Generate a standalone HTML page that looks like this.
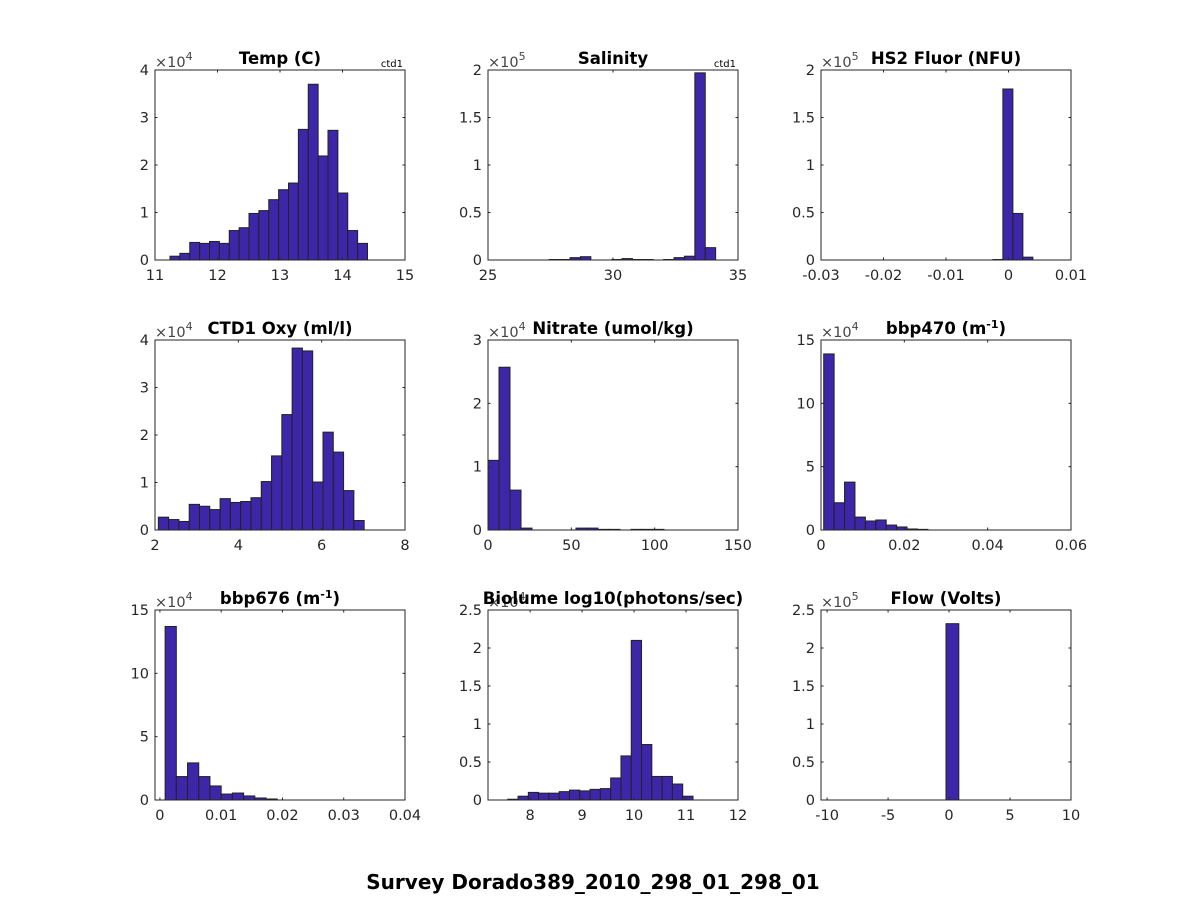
<!DOCTYPE html>
<html><head><meta charset="utf-8">
<style>
body{margin:0;background:#fff;}
svg text{font-family:"DejaVu Sans","Liberation Sans",sans-serif;}
</style></head>
<body>
<svg id="fig" width="1188" height="900" viewBox="0 0 1188 900" xmlns="http://www.w3.org/2000/svg">
<rect width="1188" height="900" fill="#fff"/>
<text x="593" y="889" text-anchor="middle" font-size="20" font-weight="bold" fill="#000">Survey Dorado389_2010_298_01_298_01</text>
</svg>
<script>
// ---- data (counts in units of the axis exponent) ----
const tempStart = 11.24, tempWidth = 0.158;
const tempCounts = [0.08,0.14,0.37,0.35,0.39,0.35,0.62,0.68,0.98,1.04,1.27,1.48,1.62,2.75,3.70,2.19,2.73,1.41,0.62,0.35];
const tempXTicks = [11,12,13,14,15];
const tempYTicks = [0,1,2,3,4];

const salStart = 27.45, salWidth = 0.416;
const salCounts = [0.005,0.005,0.025,0.035,0,0,0.005,0.015,0.005,0.005,0,0.005,0.025,0.04,1.97,0.13];
const salXTicks = [25,30,35];
const salYTicks = [0,0.5,1,1.5,2];

const fluStart = -0.0025, fluWidth = 0.0016;
const fluCounts = [0.005,1.80,0.49,0.03];
const fluXTicks = [-0.03,-0.02,-0.01,0,0.01];
const fluYTicks = [0,0.5,1,1.5,2];

const oxyStart = 2.08, oxyWidth = 0.247;
const oxyCounts = [0.27,0.22,0.18,0.54,0.50,0.43,0.66,0.58,0.60,0.68,1.02,1.56,2.43,3.83,3.77,1.01,2.06,1.64,0.83,0.20];
const oxyXTicks = [2,4,6,8];
const oxyYTicks = [0,1,2,3,4];

const nitStart = 0, nitWidth = 6.6;
const nitCounts = [1.1,2.57,0.63,0.03,0,0,0,0,0.03,0.03,0.01,0.01,0,0.01,0.01,0.01];
const nitXTicks = [0,50,100,150];
const nitYTicks = [0,1,2,3];

const b470Start = 0.00065, b470Width = 0.0025;
const b470Counts = [13.9,2.15,3.78,1.02,0.71,0.79,0.39,0.24,0.08,0.05];
const b470XTicks = [0,0.02,0.04,0.06];
const b470YTicks = [0,5,10,15];

const b676Start = 0.00085, b676Width = 0.00183;
const b676Counts = [13.7,1.85,2.93,1.85,1.11,0.47,0.55,0.32,0.16,0.08];
const b676XTicks = [0,0.01,0.02,0.03,0.04];
const b676YTicks = [0,5,10,15];

const bioStart = 7.57, bioWidth = 0.198;
const bioCounts = [0.01,0.05,0.10,0.09,0.09,0.11,0.13,0.12,0.14,0.15,0.29,0.58,2.10,0.73,0.31,0.31,0.21,0.05];
const bioXTicks = [8,9,10,11,12];
const bioYTicks = [0,0.5,1,1.5,2,2.5];

const flowStart = -0.25, flowWidth = 1.05;
const flowCounts = [2.32];
const flowXTicks = [-10,-5,0,5,10];
const flowYTicks = [0,0.5,1,1.5,2,2.5];

const NS = "http://www.w3.org/2000/svg";
const svg = document.getElementById("fig");
function mk(tag, attrs, parent){
  const e = document.createElementNS(NS, tag);
  for (const k in attrs) e.setAttribute(k, attrs[k]);
  (parent||svg).appendChild(e);
  return e;
}

function panel(cfg){
  const L = cfg.left, R = cfg.left + 250, T = cfg.top, B = cfg.top + 190;
  const g = mk("g", {});
  
  
  const xs = v => L + (v - cfg.xmin) / (cfg.xmax - cfg.xmin) * (R - L);
  const ys = v => B - (v - cfg.ymin) / (cfg.ymax - cfg.ymin) * (B - T);
  cfg.counts.forEach((c, i) => {
    if (c <= 0) return;
    const x0 = xs(cfg.start + i * cfg.width), x1 = xs(cfg.start + (i + 1) * cfg.width);
    const r = mk("rect", {x: x0, y: ys(c), width: x1 - x0, height: B - ys(c), fill: "#3d26a8", stroke: "#222", "stroke-width": 1}, g);
    
    
  });
  const box = mk("rect", {x: L, y: T, width: R - L, height: B - T, fill: "none", stroke: "#262626", "stroke-width": 1}, g);
  
  
  cfg.xticks.forEach(v => {
    const x = xs(v);
    mk("line", {x1: x, x2: x, y1: B, y2: B - 2.5, stroke: "#262626"}, g);
    mk("line", {x1: x, x2: x, y1: T, y2: T + 2.5, stroke: "#262626"}, g);
    const t = mk("text", {x: x, y: B + 20, "text-anchor": "middle", "font-size": 14.5, fill: "#262626"}, g);
    
    
    t.textContent = String(v);
  });
  cfg.yticks.forEach(v => {
    const y = ys(v);
    mk("line", {x1: L, x2: L + 2.5, y1: y, y2: y, stroke: "#262626"}, g);
    mk("line", {x1: R, x2: R - 2.5, y1: y, y2: y, stroke: "#262626"}, g);
    const t = mk("text", {x: L - 6, y: y + 5, "text-anchor": "end", "font-size": 14.5, fill: "#262626"}, g);
    
    
    t.textContent = String(v);
  });
  const ex = mk("text", {x: L, y: T - 3, "font-size": 14.5, fill: "#444"}, g);
  
  
  ex.innerHTML = '×10<tspan dy="-7" font-size="11">' + cfg.exp + '</tspan>';
  const ti = mk("text", {x: (L + R) / 2, y: T - 6, "text-anchor": "middle", "font-size": 16.5, "font-weight": "bold", fill: "#000"}, g);
  
  
  ti.innerHTML = cfg.title;
  if (cfg.ctd) {
    const c = mk("text", {x: R - 2, y: T - 3, "text-anchor": "end", "font-size": 10, fill: "#000"}, g);
    
    
    c.textContent = "ctd1";
  }
}

const cols = [155, 488, 821], rows = [70, 340, 610];
panel({name:"temp", left:cols[0], top:rows[0], xmin:11, xmax:15, ymin:0, ymax:4, start:tempStart, width:tempWidth, counts:tempCounts, xticks:tempXTicks, yticks:tempYTicks, exp:4, title:"Temp (C)", ctd:true});
panel({name:"salinity", left:cols[1], top:rows[0], xmin:25, xmax:35, ymin:0, ymax:2, start:salStart, width:salWidth, counts:salCounts, xticks:salXTicks, yticks:salYTicks, exp:5, title:"Salinity", ctd:true});
panel({name:"fluor", left:cols[2], top:rows[0], xmin:-0.03, xmax:0.01, ymin:0, ymax:2, start:fluStart, width:fluWidth, counts:fluCounts, xticks:fluXTicks, yticks:fluYTicks, exp:5, title:"HS2 Fluor (NFU)"});
panel({name:"oxygen", left:cols[0], top:rows[1], xmin:2, xmax:8, ymin:0, ymax:4, start:oxyStart, width:oxyWidth, counts:oxyCounts, xticks:oxyXTicks, yticks:oxyYTicks, exp:4, title:"CTD1 Oxy (ml/l)"});
panel({name:"nitrate", left:cols[1], top:rows[1], xmin:0, xmax:150, ymin:0, ymax:3, start:nitStart, width:nitWidth, counts:nitCounts, xticks:nitXTicks, yticks:nitYTicks, exp:4, title:"Nitrate (umol/kg)"});
panel({name:"bbp470", left:cols[2], top:rows[1], xmin:0, xmax:0.06, ymin:0, ymax:15, start:b470Start, width:b470Width, counts:b470Counts, xticks:b470XTicks, yticks:b470YTicks, exp:4, title:'bbp470 (m<tspan dy="-6" font-size="11">-1</tspan><tspan dy="6">)</tspan>'});
panel({name:"bbp676", left:cols[0], top:rows[2], xmin:-0.0008, xmax:0.04, ymin:0, ymax:15, start:b676Start, width:b676Width, counts:b676Counts, xticks:b676XTicks, yticks:b676YTicks, exp:4, title:'bbp676 (m<tspan dy="-6" font-size="11">-1</tspan><tspan dy="6">)</tspan>'});
panel({name:"biolume", left:cols[1], top:rows[2], xmin:7.19, xmax:12, ymin:0, ymax:2.5, start:bioStart, width:bioWidth, counts:bioCounts, xticks:bioXTicks, yticks:bioYTicks, exp:4, title:"Biolume log10(photons/sec)"});
panel({name:"flow", left:cols[2], top:rows[2], xmin:-10.5, xmax:10, ymin:0, ymax:2.5, start:flowStart, width:flowWidth, counts:flowCounts, xticks:flowXTicks, yticks:flowYTicks, exp:5, title:"Flow (Volts)"});
</script>
</body></html>
